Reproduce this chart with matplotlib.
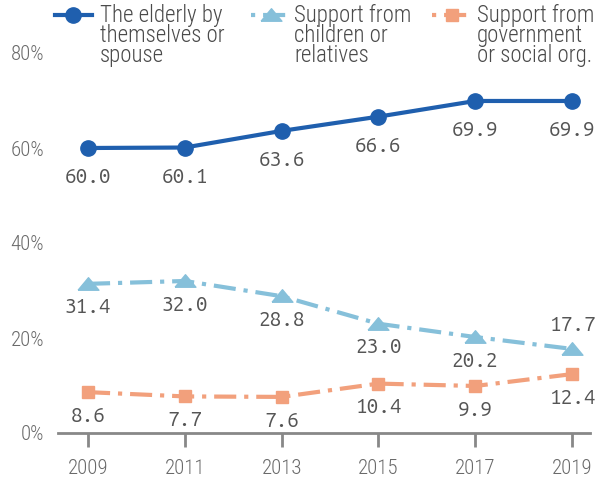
import matplotlib
matplotlib.use("Agg")
import matplotlib.pyplot as plt
from matplotlib.lines import Line2D
from matplotlib import font_manager

years = [2009, 2011, 2013, 2015, 2017, 2019]
self_support = [60.0, 60.1, 63.6, 66.6, 69.9, 69.9]
family_support = [31.4, 32.0, 28.8, 23.0, 20.2, 17.7]
public_support = [8.6, 7.7, 7.6, 10.4, 9.9, 12.4]
series_labels = [
    "The elderly by\nthemselves or\nspouse",
    "Support from\nchildren or\nrelatives",
    "Support from\ngovernment\nor social org.",
]
y_ticks = [0, 20, 40, 60, 80]
y_tick_labels = ["0%", "20%", "40%", "60%", "80%"]

installed = {f.name for f in font_manager.fontManager.ttflist}


def pick(*names):
    for n in names:
        if n in installed:
            return n
    return "Liberation Sans"


narrow = pick("Liberation Sans Narrow", "Arimo Narrow", "Roboto Condensed",
              "Archivo Narrow", "PT Sans Narrow", "Open Sans Condensed")
narrow_ok = narrow != "Liberation Sans"
tick_size = 15 if narrow_ok else 13
legend_size = 16.5 if narrow_ok else 12.5
mono = pick("Ubuntu Mono", "DejaVu Sans Mono")
mono_size = 15 if mono == "Ubuntu Mono" else 12

blue = "#1f5fae"
light_blue = "#86c0da"
orange = "#f2a07c"
gray = "#888888"
text_gray = "#6a6a6a"
W, H = 606, 478

fig = plt.figure(figsize=(W / 100, H / 100), dpi=100)
ax = fig.add_axes([58 / W, 45 / H, 532 / W, 380 / H])

# a slightly flattened upward triangle
wide_triangle = [(-1.0, -0.55), (1.0, -0.55), (0.0, 0.65), (-1.0, -0.55)]
dashdot = (0, (5.3, 1.9, 1.0, 1.9))
styles = [
    dict(color=blue, lw=3, ls="-", marker="o", ms=11),
    dict(color=light_blue, lw=3, ls=dashdot, marker=wide_triangle, ms=15),
    dict(color=orange, lw=3, ls=dashdot, marker="s", ms=9),
]
for values, st in zip([self_support, family_support, public_support], styles):
    ax.plot(years, values, clip_on=False, zorder=3, **st)

label_font = dict(family=mono, fontsize=mono_size, color="#555555",
                  ha="center", va="center")
for x, v in zip(years, self_support):
    ax.annotate(f"{v:.1f}", (x, v), xytext=(0, -21), textcoords="offset points",
                **label_font)
for i, (x, v) in enumerate(zip(years, family_support)):
    dy = 17 if i == len(years) - 1 else -17
    ax.annotate(f"{v:.1f}", (x, v), xytext=(0, dy), textcoords="offset points",
                **label_font)
for x, v in zip(years, public_support):
    ax.annotate(f"{v:.1f}", (x, v), xytext=(0, -17), textcoords="offset points",
                **label_font)

ax.set_xlim(2008.38, 2019.37)
ax.set_ylim(0, 80)
ax.set_xticks(years)
ax.set_xticklabels([str(y) for y in years], family=narrow, weight="light",
                   fontsize=tick_size, color=text_gray)
ax.set_yticks(y_ticks)
ax.set_yticklabels(y_tick_labels, family=narrow, weight="light",
                   fontsize=tick_size, color=text_gray)
ax.tick_params(axis="x", length=10, width=2, color=gray, pad=9)
ax.tick_params(axis="y", length=0, pad=10)
for side in ("top", "right", "left"):
    ax.spines[side].set_visible(False)
ax.spines["bottom"].set_color(gray)
ax.spines["bottom"].set_linewidth(2)

# Legend row: handle beside the first line of each three-line label
legend_handles = [(55, 92, 73), (251, 289, 271), (432, 472, 452)]
legend_text_x = [100, 294, 477]
handle_y = 15
for (x0, x1, xm), tx, st, text in zip(legend_handles, legend_text_x, styles,
                                      series_labels):
    line_style = {k: v for k, v in st.items() if k not in ("marker", "ms", "ls")}
    ls = st["ls"] if st["ls"] == "-" else (7.2, st["ls"][1])
    fig.add_artist(Line2D([x0 / W, x1 / W], [1 - handle_y / H] * 2,
                          transform=fig.transFigure, ls=ls, **line_style))
    fig.add_artist(Line2D([xm / W], [1 - handle_y / H], transform=fig.transFigure,
                          color=st["color"], marker=st["marker"],
                          ms=st["ms"], ls="none"))
    fig.text(tx / W, 1 - 4 / H, text, ha="left", va="top", fontsize=legend_size,
             family=narrow, weight="light", color="#4a4a4a",
             linespacing=19 / (legend_size * 100 / 72))

fig.savefig("out.png", dpi=100)
